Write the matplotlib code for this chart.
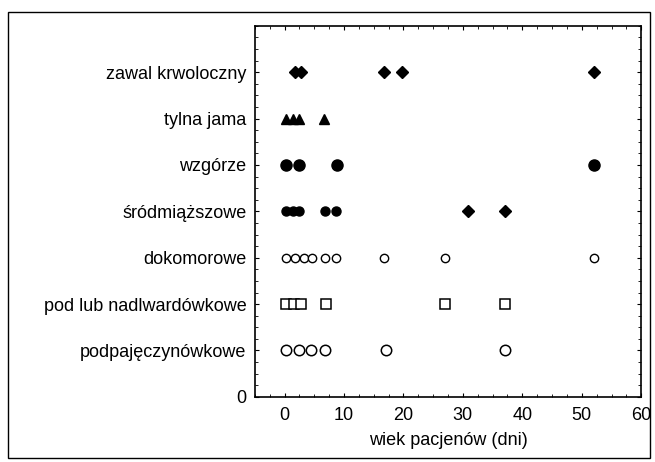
import matplotlib
matplotlib.use("Agg")
import matplotlib.pyplot as plt
from matplotlib.patches import Rectangle
from matplotlib.ticker import MultipleLocator

plt.rcParams['font.family'] = ['Liberation Sans', 'DejaVu Sans']

categories = ["podpajęczynówkowe", "pod lub nadlwardówkowe", "dokomorowe",
              "śródmiąższowe", "wzgórze", "tylna jama", "zawal krwoloczny"]

zawal_x = [1.7, 2.7, 16.8, 19.7, 52]
tylna_x = [0.3, 1.5, 2.5, 6.7]
wzgorze_x = [0.3, 2.5, 8.8, 52]
srodm_circ_x = [0.3, 1.4, 2.5, 6.8, 8.7]
srodm_diam_x = [30.8, 37]
dokom_x = [0.3, 1.8, 3.2, 4.7, 6.8, 8.6, 16.8, 27, 52]
pod_nad_x = [0.3, 1.6, 2.8, 7, 27, 37]
podpaj_x = [0.3, 2.5, 4.4, 6.8, 17, 37]

fig = plt.figure(figsize=(6.55, 4.62), dpi=100)
ax = fig.add_axes([0.389, 0.141, 0.59, 0.803])

def row(xs, yi, **kw):
    ax.plot(xs, [yi] * len(xs), linestyle='none', **kw)

row(podpaj_x, 1, marker='o', ms=7.5, mfc='white', mec='black', mew=1.1)
row(pod_nad_x, 2, marker='s', ms=7.2, mfc='white', mec='black', mew=1.1)
row(dokom_x, 3, marker='o', ms=6, mfc='white', mec='black', mew=1.0)
row(srodm_circ_x, 4, marker='o', ms=6.5, color='black')
row(srodm_diam_x, 4, marker='D', ms=6.5, color='black')
row(wzgorze_x, 5, marker='o', ms=8, color='black')
row(tylna_x, 6, marker='^', ms=7.5, color='black')
row(zawal_x, 7, marker='D', ms=6.5, color='black')

ax.set_xlim(-5, 60)
ax.set_ylim(0, 8)
ax.set_xticks([0, 10, 20, 30, 40, 50, 60])
ax.set_yticks([0] + list(range(1, 8)))
ax.set_yticklabels(["0"] + categories)
ax.xaxis.set_minor_locator(MultipleLocator(2.5))
ax.yaxis.set_minor_locator(MultipleLocator(0.25))
ax.tick_params(which='both', direction='in', top=True, right=True, labelsize=13)
ax.tick_params(axis='y', pad=6)
ax.tick_params(axis='x', pad=7)
ax.tick_params(which='major', length=3)
ax.tick_params(which='minor', length=2)
for s in ax.spines.values():
    s.set_linewidth(1.2)
ax.set_xlabel("wiek pacjenów (dni)", fontsize=13, labelpad=6)

fig.patches.append(Rectangle((0.012, 0.008), 0.98, 0.966, transform=fig.transFigure,
                             fill=False, edgecolor='black', linewidth=1.0))

fig.savefig("out.png", dpi=100)
